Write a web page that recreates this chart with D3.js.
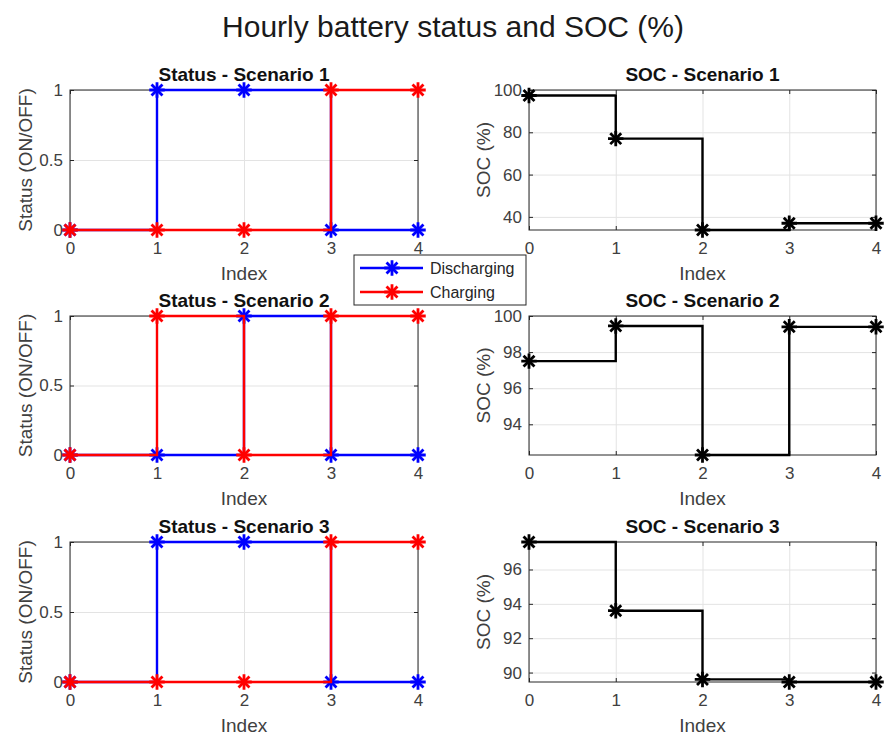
<!DOCTYPE html>
<html>
<head>
<meta charset="utf-8">
<title>Hourly battery status and SOC</title>
<script src="https://d3js.org/d3.v7.min.js"></script>
<style>
  body { margin: 0; background: #fff; }
  text { font-family: "Liberation Sans", Arial, sans-serif; }
</style>
</head>
<body>
<div id="chart"></div>
<script>
// data
var indexValues = [0, 1, 2, 3, 4];
var statusTicks = [0, 0.5, 1];

var discharging1 = [0, 1, 1, 0, 0];
var charging1    = [0, 0, 0, 1, 1];
var discharging2 = [0, 0, 1, 0, 0];
var charging2    = [0, 1, 0, 1, 1];
var discharging3 = [0, 1, 1, 0, 0];
var charging3    = [0, 0, 0, 1, 1];

var soc1 = [97.4, 77, 33.8, 37, 37];
var soc2 = [97.5, 99.45, 92.3, 99.4, 99.4];
var soc3 = [97.6, 93.6, 89.6, 89.45, 89.45];

var socTicks1 = [40, 60, 80, 100];
var socTicks2 = [94, 96, 98, 100];
var socTicks3 = [90, 92, 94, 96];

var socDomain1 = [33.8, 100];
var socDomain2 = [92.3, 100];
var socDomain3 = [89.45, 97.6];

var seriesNames = ["Discharging", "Charging"];
var seriesColors = ["#0000ff", "#ff0000"];

// layout
var W = 886, H = 735;
var colX = [[70, 418], [529, 876]];
var rowY = [[90, 230], [316, 455], [542, 682]];
var axisColor = "#262626";
var textColor = "#404040";
var gridColor = "#e3e3e3";

var svg = d3.select("#chart").append("svg")
  .attr("width", W)
  .attr("height", H);

svg.append("text")
  .attr("x", 453)
  .attr("y", 37)
  .attr("text-anchor", "middle")
  .attr("font-size", 30)
  .attr("fill", "#1a1a1a")
  .text("Hourly battery status and SOC (%)");

function drawMarker(g, cx, cy, color) {
  [d3.symbolPlus, d3.symbolTimes].forEach(function(t) {
    g.append("path")
      .attr("d", d3.symbol(t, 80)())
      .attr("transform", "translate(" + cx + "," + cy + ")")
      .attr("fill", "none")
      .attr("stroke", color)
      .attr("stroke-width", 2.8);
  });
}

function drawPanel(col, row, opts) {
  var x0 = colX[col][0], x1 = colX[col][1];
  var y0 = rowY[row][0], y1 = rowY[row][1];
  var w = x1 - x0, h = y1 - y0;

  var g = svg.append("g").attr("transform", "translate(" + x0 + "," + y0 + ")");

  var x = d3.scaleLinear().domain([0, 4]).range([0, w]);
  var y = d3.scaleLinear().domain(opts.domain).range([h, 0]);

  // grid
  g.append("g")
    .attr("transform", "translate(0," + h + ")")
    .call(d3.axisBottom(x).tickValues(indexValues).tickSize(-h).tickFormat(""))
    .call(function(s) { s.select(".domain").remove(); s.selectAll("line").attr("stroke", gridColor); });
  g.append("g")
    .call(d3.axisLeft(y).tickValues(opts.ticks).tickSize(-w).tickFormat(""))
    .call(function(s) { s.select(".domain").remove(); s.selectAll("line").attr("stroke", gridColor); });

  // box
  g.append("rect")
    .attr("width", w).attr("height", h)
    .attr("fill", "none")
    .attr("stroke", axisColor)
    .attr("stroke-width", 1);

  // axes with inward ticks
  var xa = g.append("g")
    .attr("transform", "translate(0," + h + ")")
    .call(d3.axisBottom(x).tickValues(indexValues).tickSize(-4).tickPadding(12).tickFormat(d3.format("d")));
  var ya = g.append("g")
    .call(d3.axisLeft(y).tickValues(opts.ticks).tickSize(-4).tickPadding(7).tickFormat(opts.fmt));
  var ra = g.append("g")
    .attr("transform", "translate(" + w + ",0)")
    .call(d3.axisRight(y).tickValues(opts.ticks).tickSize(-4).tickFormat(""));
  var ta = g.append("g")
    .call(d3.axisTop(x).tickValues(indexValues).tickSize(-4).tickFormat(""));
  [xa, ya, ra, ta].forEach(function(a) {
    a.select(".domain").remove();
    a.selectAll(".tick line").attr("stroke", axisColor);
  });
  [xa, ya].forEach(function(a) {
    a.selectAll("text")
      .attr("font-size", 17)
      .attr("fill", textColor)
      .attr("font-family", "Liberation Sans, Arial, sans-serif");
  });

  // data
  var line = d3.line()
    .x(function(d, i) { return x(indexValues[i]); })
    .y(function(d) { return y(d); })
    .curve(d3.curveStepAfter);

  opts.series.forEach(function(s) {
    g.append("path")
      .datum(s.values)
      .attr("d", line)
      .attr("fill", "none")
      .attr("stroke", s.color)
      .attr("stroke-width", 2.4);
    s.values.forEach(function(v, i) {
      drawMarker(g, x(indexValues[i]), y(v), s.color);
    });
  });

  // titles
  g.append("text")
    .attr("x", w / 2)
    .attr("y", -9)
    .attr("text-anchor", "middle")
    .attr("font-size", 19)
    .attr("font-weight", "bold")
    .attr("fill", "#111")
    .text(opts.title);

  g.append("text")
    .attr("x", w / 2)
    .attr("y", h + 50)
    .attr("text-anchor", "middle")
    .attr("font-size", 19)
    .attr("fill", textColor)
    .text("Index");

  g.append("text")
    .attr("transform", "translate(" + opts.ylabelX + "," + (h / 2) + ") rotate(-90)")
    .attr("text-anchor", "middle")
    .attr("font-size", 19)
    .attr("fill", textColor)
    .text(opts.ylabel);
}

var statusData = [[discharging1, charging1], [discharging2, charging2], [discharging3, charging3]];
var socData = [soc1, soc2, soc3];
var socTicks = [socTicks1, socTicks2, socTicks3];
var socDomains = [socDomain1, socDomain2, socDomain3];

for (var r = 0; r < 3; r++) {
  drawPanel(0, r, {
    domain: [0, 1],
    ticks: statusTicks,
    fmt: function(d) { return d === 0.5 ? "0.5" : d3.format("d")(d); },
    title: "Status - Scenario " + (r + 1),
    ylabel: "Status (ON/OFF)",
    ylabelX: -38,
    series: statusData[r].map(function(v, k) { return { values: v, color: seriesColors[k] }; })
  });
  drawPanel(1, r, {
    domain: socDomains[r],
    ticks: socTicks[r],
    fmt: d3.format("d"),
    title: "SOC - Scenario " + (r + 1),
    ylabel: "SOC (%)",
    ylabelX: -39,
    series: [{ values: socData[r], color: "#000000" }]
  });
}

// legend
var lg = svg.append("g").attr("transform", "translate(354,255)");
lg.append("rect")
  .attr("width", 172).attr("height", 50)
  .attr("fill", "#fff")
  .attr("stroke", axisColor)
  .attr("stroke-width", 1);
seriesNames.forEach(function(name, k) {
  var yy = 13 + k * 24;
  lg.append("line")
    .attr("x1", 6).attr("x2", 69)
    .attr("y1", yy).attr("y2", yy)
    .attr("stroke", seriesColors[k])
    .attr("stroke-width", 2.4);
  drawMarker(lg, 38, yy, seriesColors[k]);
  lg.append("text")
    .attr("x", 76)
    .attr("y", yy + 6)
    .attr("font-size", 16)
    .attr("fill", "#262626")
    .text(name);
});
</script>
</body>
</html>
